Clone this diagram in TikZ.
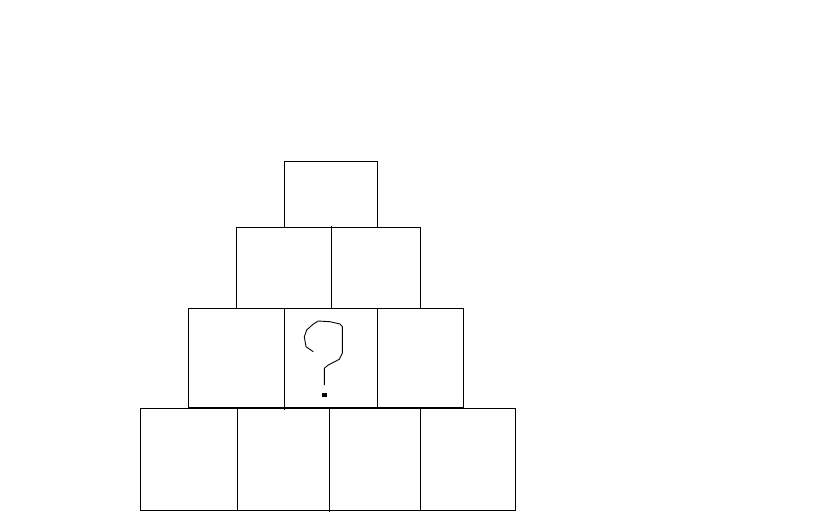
\documentclass[tikz,border=0pt]{standalone}
\begin{document}
\begin{tikzpicture}[x=1pt,y=-1pt,
  cell/.style={draw=black,line width=1pt},
  qmark/.style={draw=black,line width=0.9pt,line join=round}]
\useasboundingbox[fill=white] (0,0) rectangle (840,525);
% top
\draw[cell] (284.3,161.3) rectangle (377.3,227.3);
% row 2
\draw[cell] (236.3,227.3) rectangle (331.3,308);
\draw[cell] (331.3,227.3) rectangle (420.3,308);
\draw[cell] (331.3,226) -- (331.3,309.3);
% row 3
\draw[cell] (188.3,308) rectangle (284.3,407.3);
\draw[cell] (284.3,308) rectangle (377.3,407.3);
\draw[cell] (377.3,308) rectangle (463.3,407.3);
\draw[cell] (284.3,407) -- (284.3,409.5);
\draw[cell] (188.3,407.3) -- (463.3,407.3);
% row 4
\draw[cell] (140.3,408) rectangle (237.3,510);
\draw[cell] (237.3,408) rectangle (329.3,510);
\draw[cell] (329.3,408) rectangle (420.3,510);
\draw[cell] (420.3,408) rectangle (515.7,510);
\draw[cell] (329.3,510) -- (329.3,511.8);
% question mark
\draw[qmark] (313.3,351.7) -- (306,346.7) -- (304.3,336.7) -- (306.7,330) -- (313.3,324) -- (318.3,321) -- (330,321.7) -- (340,324) -- (342.3,326.7) -- (342.3,353.3) -- (339.3,359.3) -- (328.3,365) -- (324.3,368.3) -- (324.3,385);
\fill[black] (322.3,393.3) rectangle (326.6,396.6);
\end{tikzpicture}
\end{document}
